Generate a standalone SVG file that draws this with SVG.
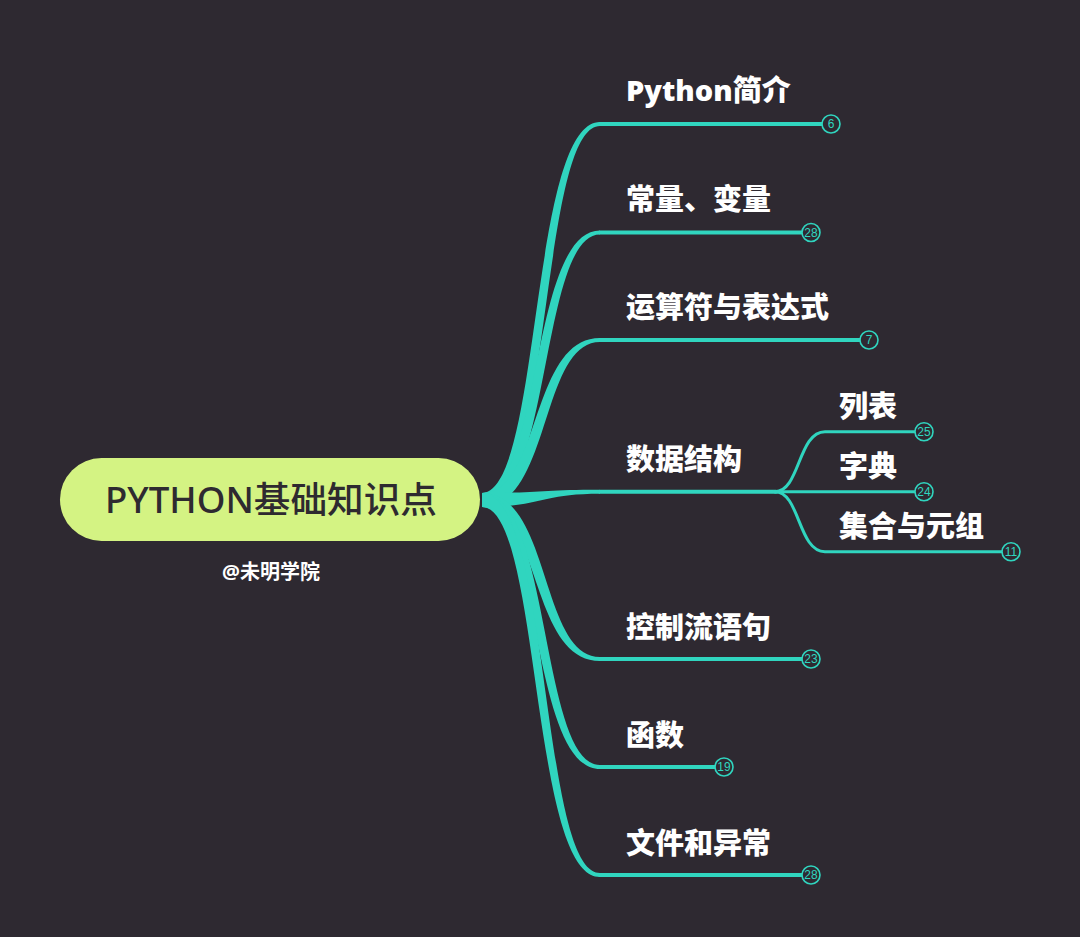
<svg xmlns="http://www.w3.org/2000/svg" width="1080" height="937" viewBox="0 0 1080 937">
<style>
.bg{fill:#2e2931}
.trunk{fill:#30d5bf}
.ln{fill:none;stroke:#30d5bf;stroke-width:4;stroke-linecap:round}
.sub{fill:none;stroke:#30d5bf;stroke-width:3;stroke-linecap:round}
.cnt circle{fill:#2e2931;stroke:#30d5bf;stroke-width:1.6}
.cnt text{fill:#30d5bf;font-family:"Liberation Sans",Arial,sans-serif;font-size:12px;text-anchor:middle}
.lbl{fill:#ffffff;font-family:"Noto Sans","Noto Sans CJK SC",sans-serif;font-weight:900;font-size:29px}
</style>
<rect class="bg" x="0" y="0" width="1080" height="937"/>
<g id="connectors">
  <path class="trunk" d="M482 493 C541 493 530 122 600 122 L600 126 C540 126 551 507 482 507 Z"/>
  <path class="ln" d="M600 124 L822 124"/>
  <path class="trunk" d="M482 493 C541 493 530 230.5 600 230.5 L600 234.5 C540 234.5 551 507 482 507 Z"/>
  <path class="ln" d="M600 232.5 L802 232.5"/>
  <path class="trunk" d="M482 493 C541 493 530 338 600 338 L600 342 C540 342 551 507 482 507 Z"/>
  <path class="ln" d="M600 340 L860 340"/>
  <path class="trunk" d="M482 493 C540 493 540 489.7 600 489.7 L600 493.7 C540 493.7 540 507 482 507 Z"/>
  <path class="ln" d="M600 491.7 L776 491.7"/>
  <path class="trunk" d="M482 493 C551 493 540 657 600 657 L600 661 C530 661 541 507 482 507 Z"/>
  <path class="ln" d="M600 659 L802 659"/>
  <path class="trunk" d="M482 493 C551 493 540 765 600 765 L600 769 C530 769 541 507 482 507 Z"/>
  <path class="ln" d="M600 767 L715 767"/>
  <path class="trunk" d="M482 493 C551 493 540 873 600 873 L600 877 C530 877 541 507 482 507 Z"/>
  <path class="ln" d="M600 875 L802 875"/>
  <path class="sub" d="M775 491.7 C800 491.7 798 431.7 825 431.7 L915 431.7"/>
  <path class="sub" d="M775 491.7 L915 491.7"/>
  <path class="sub" d="M775 491.7 C800 491.7 798 551.7 825 551.7 L1002 551.7"/>
</g>
<g id="root">
  <rect x="60" y="458" width="420" height="83" rx="41.5" fill="#d4f383"/>
  <text x="105" y="513" textLength="332" lengthAdjust="spacingAndGlyphs" fill="#2e2a30" font-family="'Noto Sans','Noto Sans CJK SC',sans-serif" font-weight="500" font-size="36">PYTHON基础知识点</text>
  <text x="271" y="579" text-anchor="middle" fill="#ffffff" font-family="'Noto Sans','Noto Sans CJK SC',sans-serif" font-weight="700" font-size="20">@未明学院</text>
</g>
<g id="n-python">
  <text class="lbl" x="626" y="101">Python简介</text>
  <g class="cnt"><circle cx="831" cy="124" r="9"/><text x="831" y="128">6</text></g>
</g>
<g id="n-const">
  <text class="lbl" x="626" y="210">常量、变量</text>
  <g class="cnt"><circle cx="811" cy="232.5" r="9"/><text x="811" y="236.5">28</text></g>
</g>
<g id="n-op">
  <text class="lbl" x="626" y="318">运算符与表达式</text>
  <g class="cnt"><circle cx="869" cy="340" r="9"/><text x="869" y="344">7</text></g>
</g>
<g id="n-ds">
  <text class="lbl" x="626" y="470">数据结构</text>
</g>
<g id="n-list">
  <text class="lbl" x="839" y="417">列表</text>
  <g class="cnt"><circle cx="924" cy="431.7" r="9"/><text x="924" y="435.7">25</text></g>
</g>
<g id="n-dict">
  <text class="lbl" x="839" y="477">字典</text>
  <g class="cnt"><circle cx="924" cy="491.7" r="9"/><text x="924" y="495.7">24</text></g>
</g>
<g id="n-set">
  <text class="lbl" x="839" y="537">集合与元组</text>
  <g class="cnt"><circle cx="1011" cy="551.7" r="9"/><text x="1011" y="555.7">11</text></g>
</g>
<g id="n-flow">
  <text class="lbl" x="626" y="638">控制流语句</text>
  <g class="cnt"><circle cx="811" cy="659" r="9"/><text x="811" y="663">23</text></g>
</g>
<g id="n-func">
  <text class="lbl" x="626" y="746">函数</text>
  <g class="cnt"><circle cx="724" cy="767" r="9"/><text x="724" y="771">19</text></g>
</g>
<g id="n-file">
  <text class="lbl" x="626" y="854">文件和异常</text>
  <g class="cnt"><circle cx="811" cy="875" r="9"/><text x="811" y="879">28</text></g>
</g>
</svg>
